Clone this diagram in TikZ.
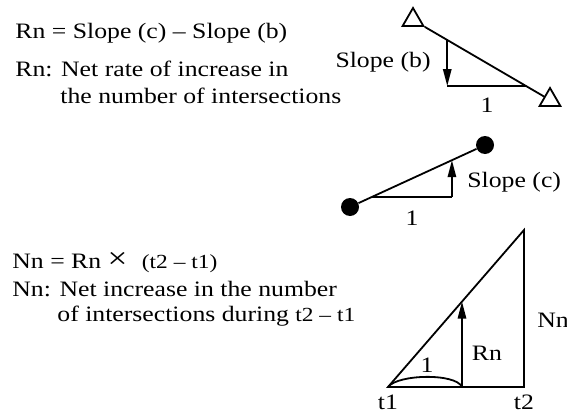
\documentclass[tikz,border=0pt]{standalone}
\usepackage{fontspec}
\setmainfont{Liberation Serif}[FakeStretch=1.17]
\usetikzlibrary{arrows.meta,calc,shapes.geometric}
\tikzset{
  every node/.style={font=\fontsize{11pt}{13pt}\selectfont,inner sep=0pt,text=black},
  txt/.style={anchor=base west},
  seg/.style={line width=0.9pt,draw=black},
  rise/.style={seg,-{Triangle[length=8.5pt,width=4.2pt]}},
  tri/.style={regular polygon,regular polygon sides=3,draw,line width=0.9pt,minimum size=12pt,inner sep=0pt},
  dot/.style={circle,fill=black,minimum size=9pt,inner sep=0pt},
}
\newcommand{\smalltime}[1]{{\fontsize{10pt}{12pt}\selectfont #1}}

\begin{document}
\begin{tikzpicture}[x=0.5pt,y=-0.5pt]
  \useasboundingbox (0,0) rectangle (567,412);

  % definitions, top
  \node[txt] (eqRn) at (15,38) {Rn = Slope (c) -- Slope (b)};
  \node[txt] (defRn) at (15,76) {Rn: Net rate of increase in};
  \node[txt] (defRnb) at (60,103) {the number of intersections};

  % definitions, bottom
  \node[txt] (eqNn) at (12,268) {Nn = Rn {\fontsize{15pt}{15pt}\selectfont ×}\hspace{4pt} \smalltime{(t2 -- t1)}};
  \node[txt] (defNn) at (12,296) {Nn: Net increase in the number};
  \node[txt] (defNnb) at (57,321) {of intersections during \smalltime{t2 -- t1}};

  % slope (b)
  \node[tri] (triB1) at (413,20) {};
  \node[tri] (triB2) at (550,100) {};
  \draw[seg] (triB1) -- (triB2);
  \coordinate (bTop) at ($(triB1)!0.25!(triB2)$);
  \coordinate (bEnd) at ($(triB1)!0.825!(triB2)$);
  \coordinate (bFoot) at (bTop |- bEnd);
  \draw[rise] (bTop) -- (bFoot);
  \draw[seg] (bFoot) -- (bEnd);
  \node[anchor=east] (slopeB) at (431,62) {Slope (b)};
  \node (runB) at (487,105) {1};

  % slope (c)
  \node[dot] (dotC1) at (350,207) {};
  \node[dot] (dotC2) at (485,145) {};
  \draw[seg] (dotC1) -- (dotC2);
  \coordinate (cStart) at ($(dotC1)!0.16!(dotC2)$);
  \coordinate (cTop) at ($(dotC1)!0.755!(dotC2)$);
  \coordinate (cFoot) at (cTop |- cStart);
  \draw[seg] (cStart) -- (cFoot);
  \draw[rise] (cFoot) -- (cTop);
  \node[anchor=west] (slopeC) at (467,182) {Slope (c)};
  \node (runC) at (412,218) {1};

  % Nn triangle
  \coordinate (t1) at (388,387);
  \coordinate (t2) at (524,387);
  \coordinate (nTop) at (524,230);
  \draw[seg,line join=miter] (t1) -- (t2) -- (nTop) -- cycle;
  \coordinate (rTop) at ($(t1)!0.544!(nTop)$);
  \coordinate (rFoot) at (rTop |- t1);
  \draw[rise] (rFoot) -- (rTop);
  \draw[seg] (t1) .. controls (398,374) and (456,373) .. (rFoot);
  \node (runN) at (427,365) {1};
  \node (lblRn) at (487,353) {Rn};
  \node[anchor=west] (lblNn) at (537,320) {Nn};
  \node (lblT1) at (388,402) {t1};
  \node (lblT2) at (524,402) {t2};
\end{tikzpicture}
\end{document}
